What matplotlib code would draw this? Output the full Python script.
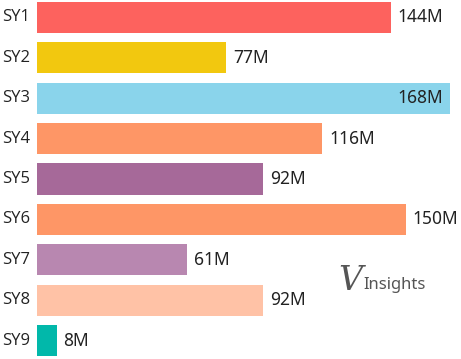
import matplotlib
matplotlib.use("Agg")
import matplotlib.pyplot as plt

# data
areas = ["SY1", "SY2", "SY3", "SY4", "SY5", "SY6", "SY7", "SY8", "SY9"]
values = [144, 77, 168, 116, 92, 150, 61, 92, 8]
colors = ["#FD625E", "#F2C80F", "#8AD4EB", "#FE9666", "#A66999",
          "#FE9666", "#B887B0", "#FFC2A6", "#01B8AA"]

fig = plt.figure(figsize=(4.61, 3.59), dpi=100)
ax = fig.add_axes([37 / 461, 0, 1 - 37 / 461, 1])

pos = list(range(len(areas)))
ax.barh(pos, values, height=0.77, color=colors)
ax.set_xlim(0, 172.5)
ax.set_ylim(8.458, -0.433)
ax.axis("off")

for p, v in zip(pos, values):
    if v == max(values):
        ax.text(v - 2.8, p, f"{v}M", ha="right", va="center",
                fontsize=12.5, family="Noto Sans", color="#222222")
    else:
        ax.text(v + 2.8, p, f"{v}M", ha="left", va="center",
                fontsize=12.5, family="Noto Sans", color="#222222")

for p, name in zip(pos, areas):
    ax.text(-14.3, p, name, ha="left", va="center", fontsize=12,
            family="Open Sans", color="#222222", clip_on=False)

# logo text
fig.text(338 / 461, 1 - 281 / 359, "V", fontsize=24, family="DejaVu Serif",
         style="italic", color="#555555", va="center", ha="left")
fig.text(363 / 461, 1 - 285 / 359, "Insights", fontsize=12, family="Noto Sans",
         color="#555555", va="center", ha="left")

fig.savefig("out.png", dpi=100)
